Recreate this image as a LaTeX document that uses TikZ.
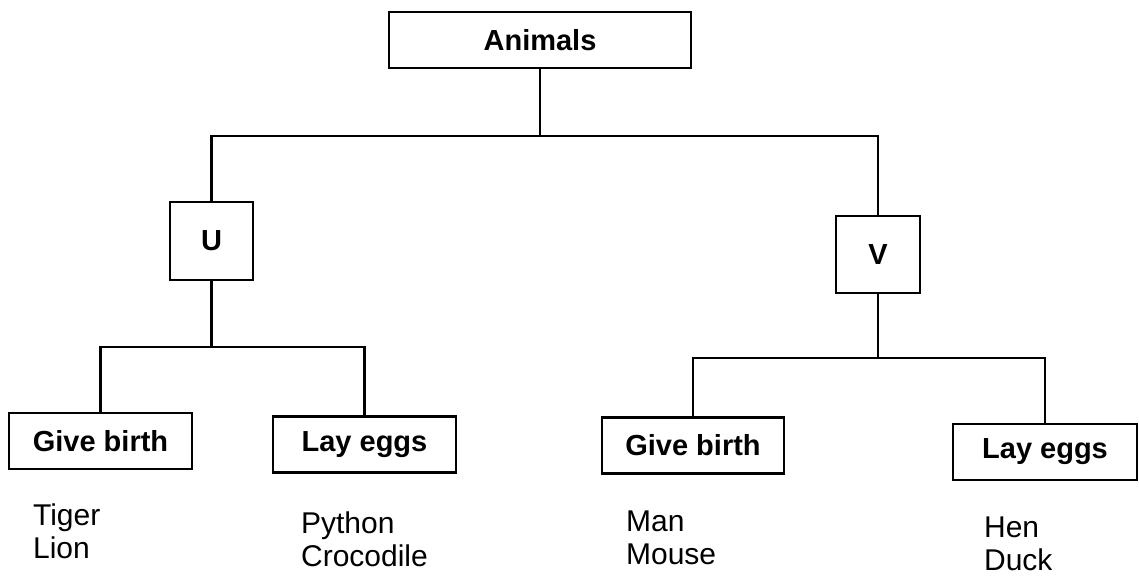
\documentclass[tikz,border=0pt]{standalone}
\usepackage{fontspec}
\setmainfont{Liberation Sans}
\usetikzlibrary{positioning}

\begin{document}
\begin{tikzpicture}[x=1pt, y=-1pt, line width=2.2pt,
    box/.style={draw, inner sep=0pt, minimum height=56pt,
        font=\bfseries\fontsize{29}{33}\selectfont},
    names/.style={anchor=west, align=left, inner sep=0pt,
        font=\fontsize{30}{33}\selectfont}]
    \useasboundingbox (0,0) rectangle (1139,576);

    \node[box, minimum width=302pt] (animals) at (540,40) {Animals};
    \node[box, minimum width=83pt, minimum height=78pt] (u) at (211.5,241) {U};
    \node[box, minimum width=84pt, minimum height=77pt] (v) at (878,254.5) {V};

    \node[box, minimum width=183pt] (gbu) at (100.5,441) {Give birth};
    \node[box, minimum width=183pt] (leu) at (364.5,444.5) {Lay eggs};
    \node[box, minimum width=182pt] (gbv) at (693,445.5) {Give birth};
    \node[box, minimum width=184pt] (lev) at (1045,452) {Lay eggs};

    % examples under each box
    \foreach \n/\x/\y/\txt in {tl/32/531/{Tiger\\Lion},
        pc/300/539/{Python\\Crocodile},
        mm/625/538/{Man\\Mouse},
        hd/983/544/{Hen\\Duck}}{
        \node[names] (\n) at (\x,\y) {\txt};
    }

    % Animals splits into U and V
    \draw (animals.south) -- (animals.south |- 0,136) coordinate (top);
    \draw (u.north) |- (top) -| (v.north);

    % U splits
    \draw (u.south) -- (u.south |- 0,347) coordinate (ubus);
    \draw (gbu.north) |- (ubus) -| (leu.north);

    % V splits
    \draw (v.south) -- (v.south |- 0,358) coordinate (vbus);
    \draw (gbv.north) |- (vbus) -| (lev.north);
\end{tikzpicture}
\end{document}
